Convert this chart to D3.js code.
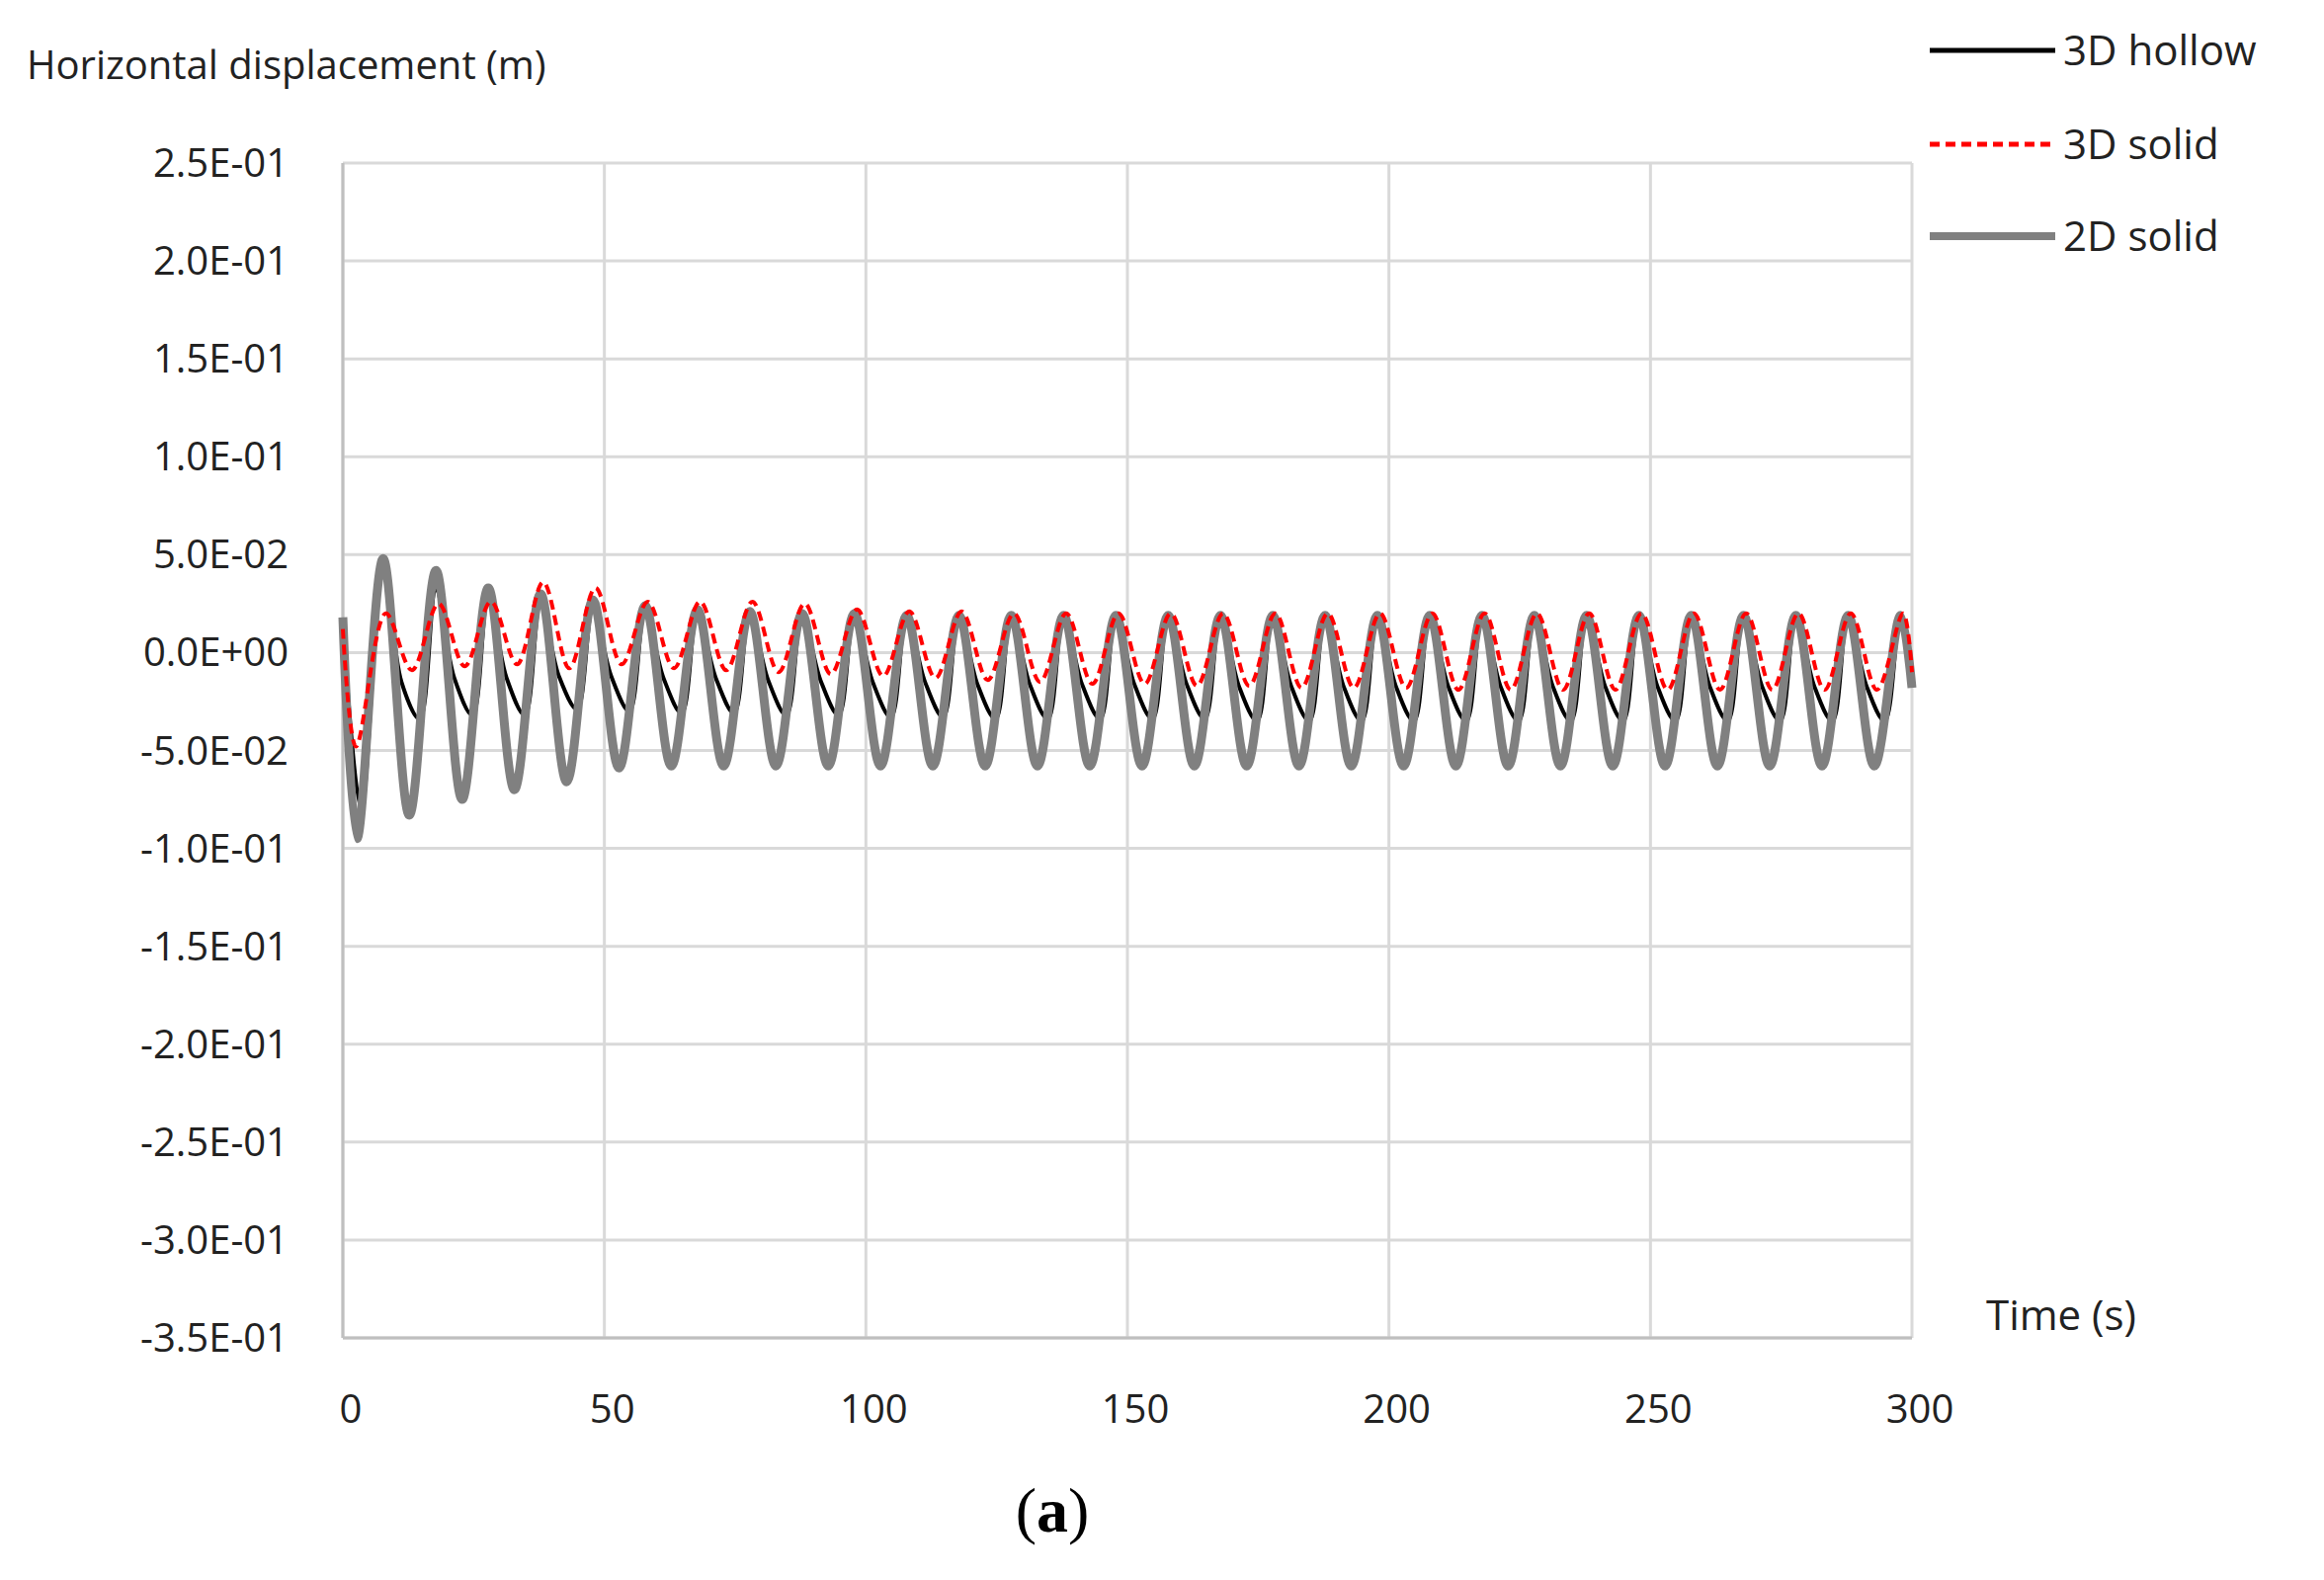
<!DOCTYPE html>
<html><head><meta charset="utf-8">
<script src="https://cdn.jsdelivr.net/npm/d3@7"></script>
<style>body{margin:0;background:#fff}</style></head>
<body><svg id="c" width="2352" height="1599"></svg>
<script>
const xTicks=[0,50,100,150,200,250,300];
const yTicks=[-0.35,-0.3,-0.25,-0.2,-0.15,-0.1,-0.05,0,0.05,0.1,0.15,0.2,0.25];
const yLabels=["-3.5E-01","-3.0E-01","-2.5E-01","-2.0E-01","-1.5E-01","-1.0E-01","-5.0E-02","0.0E+00","5.0E-02","1.0E-01","1.5E-01","2.0E-01","2.5E-01"];
const seriesNames=["3D hollow","3D solid","2D solid"];
// cycle peak times (s)
const peakTimes=[7.7,17.8,27.8,37.8,47.8,57.8,67.8,77.8,87.8,97.8,107.8,117.8,127.8,137.8,147.8,157.8,167.8,177.8,187.8,197.8,207.8,217.8,227.8,237.8,247.8,257.8,267.8,277.8,287.8,297.8];
// 2D solid
const g2Start=[[0,0.018],[2.7,-0.095]];
const g2Peaks=[0.048,0.042,0.033,0.030,0.027,0.024,0.022,0.021,0.020,0.020,0.019,0.019,0.019,0.019,0.019,0.019,0.019,0.019,0.019,0.019,0.019,0.019,0.019,0.019,0.019,0.019,0.019,0.019,0.019,0.019];
const g2Troughs=[-0.083,-0.075,-0.070,-0.066,-0.059,-0.058,-0.058,-0.058,-0.058,-0.058,-0.058,-0.058,-0.058,-0.058,-0.058,-0.058,-0.058,-0.058,-0.058,-0.058,-0.058,-0.058,-0.058,-0.058,-0.058,-0.058,-0.058,-0.058,-0.058];
const g2End=[300,-0.018];
// 3D hollow
const hStart=[[0,0.015],[3.5,-0.080]];
const hPeaks=[0.045,0.032,0.028,0.025,0.022,0.021,0.020,0.020,0.019,0.019,0.019,0.019,0.019,0.019,0.019,0.019,0.019,0.019,0.019,0.019,0.019,0.019,0.019,0.019,0.019,0.019,0.019,0.019,0.019,0.019];
const hMid=[-0.015,-0.013,-0.013,-0.012,-0.012,-0.013,-0.013,-0.014,-0.014,-0.015,-0.015,-0.016,-0.016,-0.016,-0.016,-0.016,-0.017,-0.017,-0.017,-0.017,-0.017,-0.017,-0.017,-0.017,-0.017,-0.017,-0.017,-0.017,-0.017];
const hTroughs=[-0.034,-0.032,-0.032,-0.029,-0.030,-0.031,-0.031,-0.032,-0.032,-0.033,-0.033,-0.034,-0.034,-0.034,-0.034,-0.034,-0.035,-0.035,-0.035,-0.035,-0.035,-0.035,-0.035,-0.035,-0.035,-0.035,-0.035,-0.035,-0.035];
const hEnd=[300,-0.012];
// 3D solid
const rStart=[[0,0.012],[2.5,-0.048]];
const rPeaks=[0.020,0.025,0.026,0.036,0.033,0.026,0.026,0.026,0.025,0.022,0.021,0.021,0.020,0.020,0.020,0.020,0.020,0.020,0.020,0.020,0.020,0.020,0.020,0.020,0.020,0.020,0.020,0.020,0.020,0.020];
const rTroughs=[-0.009,-0.007,-0.006,-0.008,-0.006,-0.008,-0.009,-0.010,-0.011,-0.012,-0.013,-0.014,-0.015,-0.016,-0.016,-0.017,-0.017,-0.018,-0.018,-0.018,-0.019,-0.019,-0.019,-0.019,-0.019,-0.019,-0.019,-0.019,-0.019];
const rEnd=[300,-0.010];

function build(start,peaks,troughs,end,pOff,tOff,mids,mOff){
  const pts=start.slice();
  peaks.forEach((p,i)=>{
    pts.push([peakTimes[i]+pOff,p]);
    if(mids&&i<mids.length) pts.push([peakTimes[i]+mOff,mids[i]]);
    if(i<troughs.length) pts.push([peakTimes[i]+tOff,troughs[i]]);
  });
  pts.push(end);return pts;
}
const L=347,R=1935,T=165,B=1354;
const svg=d3.select("#c");
const x=d3.scaleLinear().domain([0,300]).range([L,R]);
const y=d3.scaleLinear().domain([-0.35,0.25]).range([B,T]);
const font="'Open Sans', sans-serif";
const grid=svg.append("g").attr("stroke","#d9d9d9").attr("stroke-width",3);
yTicks.forEach(v=>grid.append("line").attr("x1",L).attr("x2",R).attr("y1",y(v)).attr("y2",y(v)));
xTicks.forEach(v=>grid.append("line").attr("y1",T).attr("y2",B).attr("x1",x(v)).attr("x2",x(v)));
svg.append("line").attr("x1",L).attr("x2",L).attr("y1",T).attr("y2",B).attr("stroke","#bfbfbf").attr("stroke-width",3);
svg.append("line").attr("x1",L).attr("x2",R).attr("y1",B).attr("y2",B).attr("stroke","#bfbfbf").attr("stroke-width",3);
yTicks.forEach((v,i)=>svg.append("text").attr("x",292).attr("y",y(v)+14).attr("text-anchor","end").attr("font-family",font).attr("font-size",40).attr("fill","#222").text(yLabels[i]));
xTicks.forEach(v=>svg.append("text").attr("x",x(v)+8).attr("y",1440).attr("text-anchor","middle").attr("font-family",font).attr("font-size",40).attr("fill","#222").text(v));
const line=d3.line().x(d=>x(d[0])).y(d=>y(d[1])).curve(d3.curveCatmullRom);
const plot=svg.append("g");
plot.append("path").datum(build(hStart,hPeaks,hTroughs,hEnd,0,7,hMid,3.5)).attr("d",line).attr("fill","none").attr("stroke","#000").attr("stroke-width",4);
plot.append("path").datum(build(g2Start,g2Peaks,g2Troughs,g2End,0,5)).attr("d",line).attr("fill","none").attr("stroke","#808080").attr("stroke-width",9);
plot.append("path").datum(build(rStart,rPeaks,rTroughs,rEnd,0.5,5.5)).attr("d",line).attr("fill","none").attr("stroke","#ff0000").attr("stroke-width",4).attr("stroke-dasharray","10,6");
svg.append("text").attr("x",27).attr("y",80).attr("font-family",font).attr("font-size",40).attr("fill","#222").text("Horizontal displacement (m)");
svg.append("text").attr("x",2010).attr("y",1346).attr("font-family",font).attr("font-size",42).attr("fill","#222").text("Time (s)");
const leg=[{c:"#000",w:5,d:null,y:51},{c:"#ff0000",w:5,d:"10,6",y:146},{c:"#808080",w:8,d:null,y:239}];
leg.forEach((l,i)=>{
  svg.append("line").attr("x1",1953).attr("x2",2080).attr("y1",l.y).attr("y2",l.y).attr("stroke",l.c).attr("stroke-width",l.w).attr("stroke-dasharray",l.d);
  svg.append("text").attr("x",2088).attr("y",l.y+15).attr("font-family",font).attr("font-size",42).attr("fill","#222").text(seriesNames[i]);
});
const a=svg.append("text").attr("x",1065).attr("y",1550).attr("text-anchor","middle").attr("font-family","'Liberation Serif', serif").attr("font-size",64);
a.append("tspan").text("(");a.append("tspan").attr("font-weight","bold").text("a");a.append("tspan").text(")");
</script></body></html>
